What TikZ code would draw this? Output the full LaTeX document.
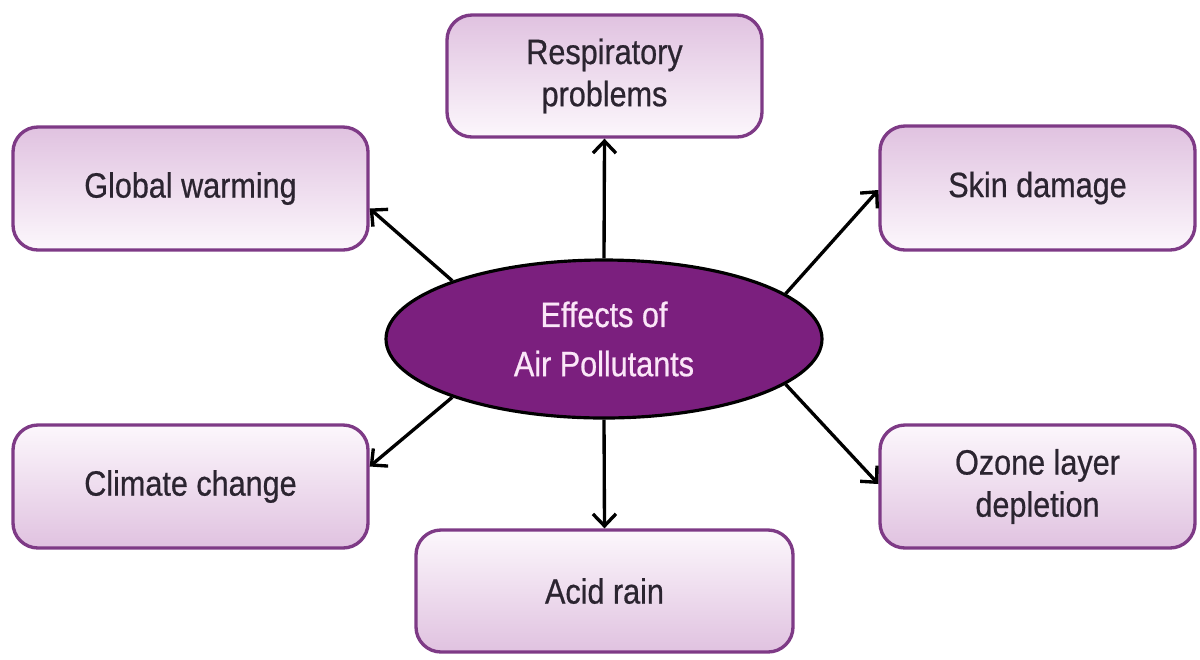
\documentclass[tikz,border=0pt]{standalone}
\usepackage{fontspec}
\setmainfont{Liberation Sans}[FakeStretch=0.87,FakeBold=0.6]
\usepackage{tikz}
\usetikzlibrary{arrows.meta,shapes.geometric}
\definecolor{plum}{HTML}{7B1F7E}
\definecolor{plumedge}{HTML}{7E3A86}
\definecolor{plumdark}{HTML}{E0C2E0}
\definecolor{plumlight}{HTML}{FCF7FC}
\definecolor{inktext}{HTML}{2B2430}
\definecolor{pinktext}{HTML}{FBE6F8}

\begin{document}
\begin{tikzpicture}[
   font=\fontsize{20}{24}\selectfont,
   box/.style={draw=plumedge, line width=1.9pt, rounded corners=0.5cm,
               align=center, inner sep=4pt, text=inktext},
   boxup/.style={box, top color=plumdark, bottom color=plumlight},
   boxdown/.style={box, top color=plumlight, bottom color=plumdark},
   hub/.style={ellipse, draw=black, line width=1.8pt, fill=plum, text=pinktext,
               align=center, minimum width=8.72cm, minimum height=3.16cm,
               font=\fontsize{20}{28}\selectfont},
   fwd/.style={-{Straight Barb[length=2.4mm, width=4.6mm]}, line width=1.9pt, color=black},
]
  \useasboundingbox (0,0) rectangle (24,-13.18);
  \node[hub] (eff) at (12.08,-6.78) {Effects of\\ Air Pollutants};
  \node[boxup, minimum width=6.3cm, minimum height=2.44cm] (resp) at (12.09,-1.52) {Respiratory\\ problems};
  \node[boxup, minimum width=7.1cm, minimum height=2.46cm] (gw) at (3.81,-3.77) {Global warming};
  \node[boxup, minimum width=6.3cm, minimum height=2.48cm] (skin) at (20.75,-3.76) {Skin damage};
  \node[boxdown, minimum width=7.1cm, minimum height=2.46cm] (cc) at (3.81,-9.73) {Climate change};
  \node[boxdown, minimum width=6.3cm, minimum height=2.46cm] (oz) at (20.75,-9.73) {Ozone layer\\ depletion};
  \node[boxdown, minimum width=7.54cm, minimum height=2.44cm] (acid) at (12.09,-11.82) {Acid rain};
  % spokes
  \draw[fwd] (eff.north) -- (resp.south);
  \draw[fwd] (eff.south) -- (acid.north);
  \draw[fwd] (eff.159) -- ([yshift=-0.4cm]gw.east);
  \draw[fwd] (eff.201) -- ([yshift=0.4cm]cc.east);
  \draw[fwd] (eff.14) -- ([yshift=-0.04cm]skin.west);
  \draw[fwd] (eff.-14) -- ([yshift=0.05cm]oz.west);
\end{tikzpicture}
\end{document}
